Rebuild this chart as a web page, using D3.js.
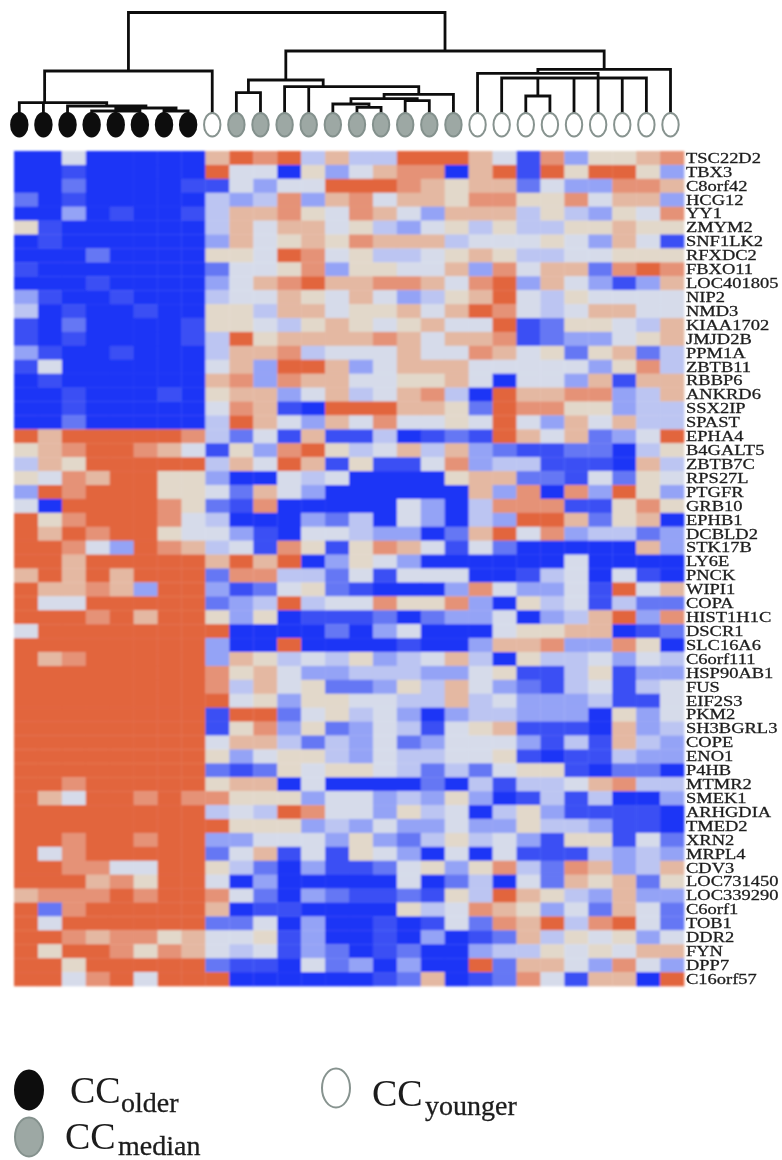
<!DOCTYPE html>
<html>
<head>
<meta charset="utf-8">
<title>CC heatmap</title>
<script src="https://cdn.jsdelivr.net/npm/d3@7"></script>
<style>
  body { margin: 0; background: #fff; }
  svg { display: block; }
  text { font-family: "Liberation Serif", serif; fill: #1c1c1c; }
</style>
</head>
<body>
<div id="graph_area"></div>
<script>
// gene names, top to bottom
const genes = ["TSC22D2","TBX3","C8orf42","HCG12","YY1","ZMYM2","SNF1LK2","RFXDC2","FBXO11","LOC401805",
  "NIP2","NMD3","KIAA1702","JMJD2B","PPM1A","ZBTB11","RBBP6","ANKRD6","SSX2IP","SPAST",
  "EPHA4","B4GALT5","ZBTB7C","RPS27L","PTGFR","GRB10","EPHB1","DCBLD2","STK17B","LY6E",
  "PNCK","WIPI1","COPA","HIST1H1C","DSCR1","SLC16A6","C6orf111","HSP90AB1","FUS","EIF2S3",
  "PKM2","SH3BGRL3","COPE","ENO1","P4HB","MTMR2","SMEK1","ARHGDIA","TMED2","XRN2",
  "MRPL4","CDV3","LOC731450","LOC339290","C6orf1","TOB1","DDR2","FYN","DPP7","C16orf57"];

// sample class of each column
const samples = ["older","older","older","older","older","older","older","older","younger",
  "median","median","median","median","median","median","median","median","median","median",
  "younger","younger","younger","younger","younger","younger","younger","younger","younger"];

// expression, 0 = deep blue ... 9 = deep orange, one digit per sample
const expression = [
  "0050000079894744999751836678",
  "0010000095506357880791969963",
  "0020000115355999876772533887",
  "2010000043483785776886685773",
  "0030100147786587537774643658",
  "6100000047577564356464466766",
  "0100000037567687774555653751",
  "0002000066598564456764455666",
  "1000000025568366557385772898",
  "0001000035789778875893753137",
  "3100100045576575346795465555",
  "4010010066477566757985457755",
  "1020000166546765675591266547",
  "1010000149677778757781233567",
  "3100100047784555755875626724",
  "1500000057399735777555553684",
  "0100000078387755667505537177",
  "0010001067735745784097788347",
  "0010000058710999776298866344",
  "0020000049753758556595375744",
  "9799999842517114012197572359",
  "6789987516389645747321122046",
  "4769999947597161158344111074",
  "6587996630054500006772215265",
  "3989996652753000000738083963",
  "5099998621800000530488811686",
  "9689998540003240530439972670",
  "9798996553105543302795834423",
  "9985398745186168751520000073",
  "9979999979790365300000050000",
  "7979799928844251555001450510",
  "9778739931256210003853351957",
  "9559999923494558668306451422",
  "9998979963601112023350347938",
  "5999999990000203500056677012",
  "9999999930090000100377833860",
  "9789999937645463457406445354",
  "9999999986753344433561146133",
  "9999999984756223647532145145",
  "9999999995636655447453334115",
  "9999999919925645303443330635",
  "9999999916836235415671110734",
  "9999999957742435235553141743",
  "9999999963566435445561011433",
  "9999999921265665424256610220",
  "9989999967705000020414457844",
  "9759989886663553436301414003",
  "9999999945498553645046311110",
  "9999999996663435335336443110",
  "9989989933555363246453166152",
  "9589999925715165305051114343",
  "9988559964203112563684287347",
  "9997869950300000502405276726",
  "7888989985203211216497643733",
  "9289999970110000645876352752",
  "9599999922503001015287948952",
  "9987886755613001030127465635",
  "9699868754513201200344656577",
  "9969999921105230300927753853",
  "9958959990000001270128517709"
];

// colours for the ten expression levels
const levelColors = ["#1b34f6","#3a50f4","#6577f4","#94a3f6","#bcc5f2","#d6dbea","#e2d8ca","#e4b8a2","#e59277","#e2653e"];

// dendrogram merges: [name, height, children], a number child is a sample column
const merges = [
  ["root", 100.5, ["L","R"]],
  ["L", 42, ["A",8]],
  ["A", 10.3, [0,1,"B"]],
  ["B", 7, [2,"C"]],
  ["C", 5, ["D","E"]],
  ["D", 2, [3,4,5]],
  ["E", 2, [6,7]],
  ["R", 62, ["G1","W1"]],
  ["G1", 33, ["G2","G3"]],
  ["G2", 20.3, [9,10]],
  ["G3", 26.3, [11,12,"G4"]],
  ["G4", 18.7, ["G5",18]],
  ["G5", 14.3, ["G6","G7"]],
  ["G6", 9, [13,"G8"]],
  ["G7", 12.3, [16,17]],
  ["G8", 5.7, [14,15]],
  ["W1", 43.7, ["W2",27]],
  ["W2", 39.7, [19,"W3"]],
  ["W3", 35, [20,"W4",23,24,25,26]],
  ["W4", 17, [21,22]]
];
// these clusters hang off-centre in the picture (in column units)
const offCentre = { A: 1.05, G3: 12.6, W3: 24 };

const legendItems = [
  ["older", "CC", "older"],
  ["median", "CC", "median"],
  ["younger", "CC", "younger"]
];

const width = 782, height = 1160;
const svg = d3.select("#graph_area").append("svg")
  .attr("width", width).attr("height", height);

// the source is a soft scan, so everything gets a small blur
const defs = svg.append("defs");
defs.append("filter").attr("id", "soft")
  .attr("x", "-2%").attr("y", "-2%").attr("width", "104%").attr("height", "104%")
  .append("feGaussianBlur").attr("stdDeviation", 0.9);
defs.append("filter").attr("id", "softText")
  .attr("x", "-5%").attr("y", "-20%").attr("width", "110%").attr("height", "140%")
  .append("feGaussianBlur").attr("stdDeviation", 0.5);

const columns = d3.range(samples.length);
const x = d3.scaleBand().domain(columns).range([14, 684]);
const y = d3.scaleBand().domain(genes).range([151, 986]);
const color = d3.scaleLinear().domain(d3.range(levelColors.length)).range(levelColors);

// heat map cells
const cells = [];
expression.forEach(function(row, r) {
  row.split("").forEach(function(v, c) {
    cells.push({ gene: genes[r], col: c, value: +v });
  });
});

svg.append("g").attr("filter", "url(#soft)")
  .selectAll("rect").data(cells).join("rect")
  .attr("x", d => x(d.col))
  .attr("y", d => y(d.gene))
  .attr("width", x.bandwidth() + 0.3)
  .attr("height", y.bandwidth() + 0.3)
  .attr("fill", d => color(d.value));

// gene labels, the scan stretched them sideways
svg.append("g").attr("filter", "url(#softText)")
  .selectAll("text").data(genes).join("text")
  .attr("transform", d => "translate(686," + (y(d) + y.bandwidth() / 2 + 4.8) + ") scale(1.36,1)")
  .attr("font-size", 13.6)
  .attr("stroke", "#1c1c1c")
  .attr("stroke-width", 0.25)
  .text(d => d);

// dendrogram
const leafX = d3.scalePoint().domain(columns).range([19.3, 670.5]);
const colToX = d3.scaleLinear().domain([0, samples.length - 1]).range([19.3, 670.5]);
const heightY = d3.scaleLinear().domain([0, 100.5]).range([113, 12.5]);
const byName = new Map(merges.map(m => [m[0], m]));

function childX(kid) {
  if (typeof kid === "number") return leafX(kid);
  return nodeX(kid);
}
function nodeX(name) {
  if (offCentre[name] !== undefined) return colToX(offCentre[name]);
  const xs = byName.get(name)[2].map(childX);
  return (d3.min(xs) + d3.max(xs)) / 2;
}

const path = d3.path();
merges.forEach(function(m) {
  const barY = heightY(m[1]);
  const xs = m[2].map(childX);
  path.moveTo(d3.min(xs), barY);
  path.lineTo(d3.max(xs), barY);
  m[2].forEach(function(kid, i) {
    const bottom = typeof kid === "number" ? heightY(0) : heightY(byName.get(kid)[1]);
    path.moveTo(xs[i], barY);
    path.lineTo(xs[i], bottom);
  });
});

svg.append("path").attr("d", path.toString())
  .attr("fill", "none").attr("stroke", "#111").attr("stroke-width", 2.8)
  .attr("stroke-linecap", "square").attr("filter", "url(#softText)");

// sample markers
const markerFill = { older: "#0a0a0a", median: "#9da8a4", younger: "#ffffff" };
const markerStroke = { older: "#0a0a0a", median: "#84918d", younger: "#87938f" };

svg.append("g").attr("filter", "url(#softText)")
  .selectAll("ellipse").data(columns).join("ellipse")
  .attr("cx", d => leafX(d))
  .attr("cy", 124.7)
  .attr("rx", 8.2)
  .attr("ry", 11.8)
  .attr("fill", d => markerFill[samples[d]])
  .attr("stroke", d => markerStroke[samples[d]])
  .attr("stroke-width", 2);

// legend, placed by hand like the original
const legendPos = {
  older: { cx: 29, cy: 1090, tx: 70, ty: 1103, sx: 121, sy: 1112 },
  median: { cx: 29, cy: 1137, tx: 65, ty: 1149, sx: 118, sy: 1155 },
  younger: { cx: 336, cy: 1088, tx: 372, ty: 1106, sx: 425, sy: 1115 }
};

const legend = svg.append("g").attr("filter", "url(#softText)");
legendItems.forEach(function(item) {
  const p = legendPos[item[0]];
  legend.append("ellipse")
    .attr("cx", p.cx).attr("cy", p.cy).attr("rx", 14).attr("ry", 19.5)
    .attr("fill", markerFill[item[0]])
    .attr("stroke", markerStroke[item[0]])
    .attr("stroke-width", 2);
  legend.append("text").attr("x", p.tx).attr("y", p.ty)
    .attr("font-size", 38).text(item[1]);
  legend.append("text").attr("x", p.sx).attr("y", p.sy)
    .attr("font-size", 28).attr("stroke", "#1c1c1c").attr("stroke-width", 0.3).text(item[2]);
});
</script>
</body>
</html>
